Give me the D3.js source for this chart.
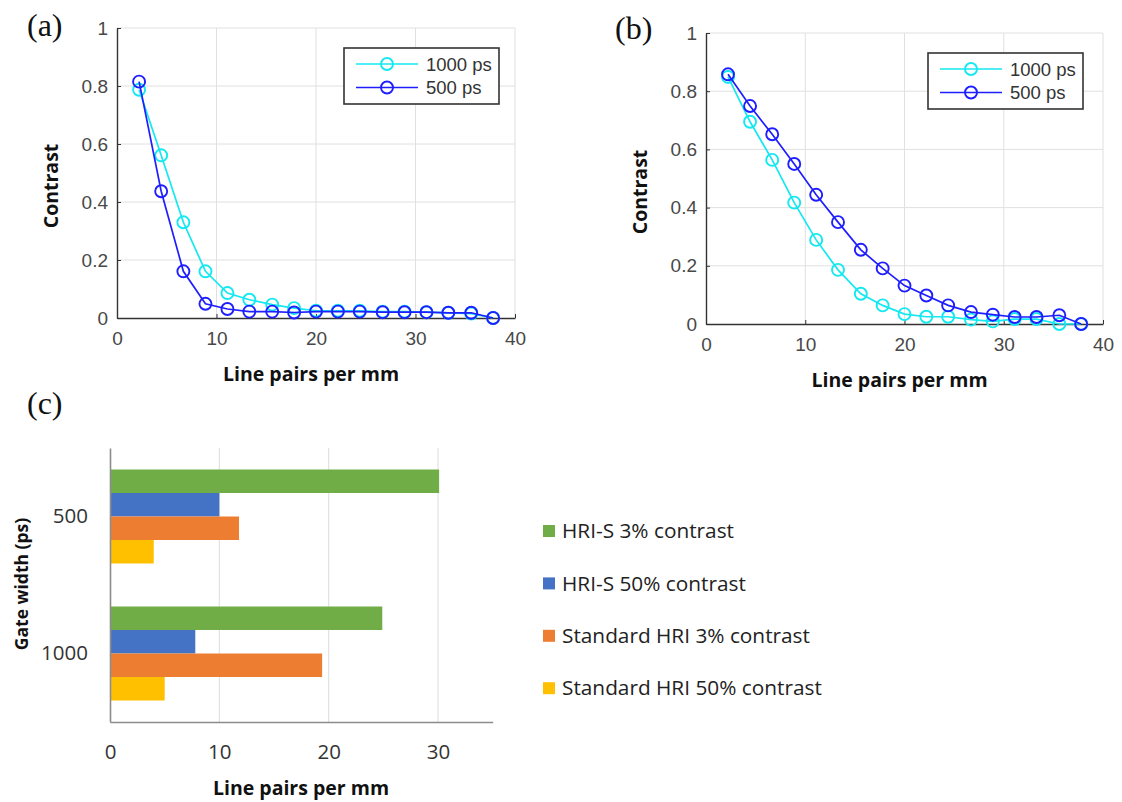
<!DOCTYPE html>
<html>
<head>
<meta charset="utf-8">
<script src="https://cdn.jsdelivr.net/npm/d3@7"></script>
<style>
  html, body { margin: 0; padding: 0; background: #fff; }
  svg { display: block; }
</style>
</head>
<body>
<svg id="fig" width="1122" height="802"></svg>
<script>
// Spatial frequencies of the resolution target (line pairs per mm)
const linePairs = [2.22, 4.44, 6.67, 8.89, 11.1, 13.3, 15.6, 17.8, 20.0, 22.2, 24.4, 26.7, 28.9, 31.1, 33.3, 35.6, 37.8];

// (a) contrast transfer, standard HRI
const aContrast1000 = [0.787, 0.561, 0.330, 0.161, 0.086, 0.063, 0.046, 0.034, 0.025, 0.025, 0.025, 0.022, 0.022, 0.020, 0.018, 0.015, 0.000];
const aContrast500  = [0.815, 0.437, 0.161, 0.049, 0.031, 0.022, 0.022, 0.019, 0.022, 0.022, 0.022, 0.020, 0.020, 0.020, 0.018, 0.018, 0.000];

// (b) contrast transfer, HRI-S
const bContrast1000 = [0.849, 0.695, 0.564, 0.417, 0.289, 0.186, 0.104, 0.064, 0.034, 0.025, 0.025, 0.015, 0.009, 0.017, 0.017, 0.000, 0.000];
const bContrast500  = [0.858, 0.749, 0.652, 0.550, 0.444, 0.350, 0.255, 0.191, 0.132, 0.098, 0.064, 0.041, 0.032, 0.024, 0.024, 0.030, 0.000];

const gateLabels = ["1000 ps", "500 ps"];
const contrastTicks = [0, 0.2, 0.4, 0.6, 0.8, 1];
const lpTicks = [0, 10, 20, 30, 40];

// (c) resolution limits per gate width
const gateWidths = ["500", "1000"];
const barSeries = ["HRI-S 3% contrast", "HRI-S 50% contrast", "Standard HRI 3% contrast", "Standard HRI 50% contrast"];
const hriS3   = [30.1, 24.9];
const hriS50  = [10.0, 7.8];
const std3    = [11.8, 19.4];
const std50   = [4.0, 5.0];
const barTicks = [0, 10, 20, 30];

const svg = d3.select("#fig");
svg.append("rect").attr("width", 1122).attr("height", 802).attr("fill", "#fff");

const lineColors = ["#14e8f0", "#1e1eff"];
const sansTick = "'Liberation Sans', Arial, sans-serif";
const sansLabel = "'Open Sans', 'Noto Sans', sans-serif";

function linePanel(cfg) {
  const g = svg.append("g");
  const x = d3.scaleLinear().domain([0, 40]).range([cfg.left, cfg.right]);
  const y = d3.scaleLinear().domain([0, 1]).range([cfg.bottom, cfg.top]);

  // grid
  const grid = g.append("g");
  grid.selectAll("line.vx").data(lpTicks.slice(1)).join("line")
    .attr("x1", d => x(d)).attr("x2", d => x(d))
    .attr("y1", cfg.top).attr("y2", cfg.bottom)
    .attr("stroke", "#e0e0e0").attr("stroke-width", 1);
  grid.selectAll("line.hy").data(contrastTicks.slice(1)).join("line")
    .attr("x1", cfg.left).attr("x2", cfg.right)
    .attr("y1", d => y(d)).attr("y2", d => y(d))
    .attr("stroke", "#e0e0e0").attr("stroke-width", 1);

  // axes with inward ticks
  const ax = g.append("g").attr("transform", `translate(0,${cfg.bottom})`)
    .call(d3.axisBottom(x).tickValues(lpTicks).tickSizeInner(-4).tickSizeOuter(0).tickPadding(14));
  const ay = g.append("g").attr("transform", `translate(${cfg.left},0)`)
    .call(d3.axisLeft(y).tickValues(contrastTicks).tickFormat(d => d3.format("")(d)).tickSizeInner(-4).tickSizeOuter(0).tickPadding(9));
  [ax, ay].forEach(a => {
    a.select(".domain").attr("stroke", "#333").attr("stroke-width", 1.4);
    a.selectAll(".tick line").attr("stroke", "#333");
    a.selectAll(".tick text").attr("font-family", sansTick).attr("font-size", 19).attr("fill", "#484848");
  });

  // series
  const line = d3.line().x(d => x(d[0])).y(d => y(d[1]));
  cfg.series.forEach((vals, i) => {
    const pts = linePairs.map((lp, k) => [lp, vals[k]]);
    g.append("path").datum(pts).attr("d", line)
      .attr("fill", "none").attr("stroke", lineColors[i]).attr("stroke-width", 1.7);
    g.selectAll(null).data(pts).join("circle")
      .attr("cx", d => x(d[0])).attr("cy", d => y(d[1])).attr("r", 6)
      .attr("fill", "none").attr("stroke", lineColors[i]).attr("stroke-width", 1.9);
  });

  // legend
  const lg = g.append("g");
  lg.append("rect").attr("x", cfg.legend[0]).attr("y", cfg.legend[1])
    .attr("width", 155).attr("height", 56)
    .attr("fill", "#fff").attr("stroke", "#333").attr("stroke-width", 1.6);
  gateLabels.forEach((lab, i) => {
    const cy = cfg.legend[1] + 16 + i * 23.5;
    const lx = cfg.legend[0] + 12;
    lg.append("line").attr("x1", lx).attr("x2", lx + 62).attr("y1", cy).attr("y2", cy)
      .attr("stroke", lineColors[i]).attr("stroke-width", 1.7);
    lg.append("circle").attr("cx", lx + 31).attr("cy", cy).attr("r", 6)
      .attr("fill", "none").attr("stroke", lineColors[i]).attr("stroke-width", 1.9);
    lg.append("text").attr("x", lx + 70).attr("y", cy).attr("dy", "0.36em")
      .attr("font-family", sansTick).attr("font-size", 18.5).attr("fill", "#333").text(lab);
  });

  // axis titles
  g.append("text").attr("x", (cfg.left + cfg.right) / 2 - 5).attr("y", cfg.bottom + 63)
    .attr("text-anchor", "middle").attr("font-family", sansLabel).attr("font-weight", 700)
    .attr("font-size", 19.5).attr("fill", "#111").text("Line pairs per mm");
  g.append("text").attr("transform", `translate(${cfg.left - 59},${cfg.ylabelY}) rotate(-90)`)
    .attr("text-anchor", "middle").attr("font-family", sansLabel).attr("font-weight", 700)
    .attr("font-size", 19.5).attr("fill", "#111").text("Contrast");

  // panel tag
  svg.append("text").attr("x", cfg.tag[0]).attr("y", cfg.tag[1])
    .attr("font-family", "'Liberation Serif', 'Times New Roman', serif").attr("font-size", 32)
    .attr("fill", "#111").text(cfg.tagText);
}

linePanel({
  left: 117, right: 515, top: 28, bottom: 318,
  series: [aContrast1000, aContrast500],
  legend: [344, 48], ylabelY: 186, tag: [27, 36], tagText: "(a)"
});
linePanel({
  left: 706, right: 1103, top: 33, bottom: 324,
  series: [bContrast1000, bContrast500],
  legend: [928, 53], ylabelY: 192, tag: [615, 39], tagText: "(b)"
});

// (c) grouped horizontal bars
const barColors = ["#70ad47", "#4472c4", "#ed7d31", "#ffc000"];
const barValues = [hriS3, hriS50, std3, std50];
const cLeft = 110, cRight = 492.7, cTop = 448, cBottom = 722;
const xc = d3.scaleLinear().domain([0, 35]).range([cLeft, cRight]);
const yc = d3.scaleBand().domain(gateWidths).range([cTop, cBottom]).paddingInner(0).paddingOuter(0);
const ys = d3.scaleBand().domain(barSeries).range([0, yc.bandwidth()]).paddingInner(0).paddingOuter(0.915);

const gc = svg.append("g");
gc.selectAll("line.grid").data(barTicks.slice(1)).join("line")
  .attr("x1", d => xc(d)).attr("x2", d => xc(d)).attr("y1", cTop).attr("y2", cBottom)
  .attr("stroke", "#dcdcdc").attr("stroke-width", 1);

gateWidths.forEach((gw, gi) => {
  barSeries.forEach((s, si) => {
    gc.append("rect")
      .attr("x", xc(0)).attr("y", yc(gw) + ys(s))
      .attr("width", xc(barValues[si][gi]) - xc(0)).attr("height", ys.bandwidth())
      .attr("fill", barColors[si]);
  });
});

const axc = gc.append("g").attr("transform", `translate(0,${cBottom})`)
  .call(d3.axisBottom(xc).tickValues(barTicks).tickSize(0).tickPadding(22));
axc.select(".domain").attr("stroke", "#8c8c8c").attr("stroke-width", 1.6);
axc.selectAll(".tick text").attr("font-family", sansLabel).attr("font-size", 20.5).attr("fill", "#333");

const ayc = gc.append("g").attr("transform", `translate(${cLeft},0)`)
  .call(d3.axisLeft(yc).tickSize(0).tickPadding(22));
ayc.select(".domain").attr("stroke", "#8c8c8c").attr("stroke-width", 1.6);
ayc.selectAll(".tick text").attr("font-family", sansLabel).attr("font-size", 20.5).attr("fill", "#333");

gc.append("text").attr("x", 301).attr("y", 788).attr("dy", "0.35em")
  .attr("text-anchor", "middle").attr("font-family", sansLabel).attr("font-weight", 700)
  .attr("font-size", 19.5).attr("fill", "#111").text("Line pairs per mm");
gc.append("text").attr("transform", "translate(22,584) rotate(-90)").attr("dy", "0.35em")
  .attr("text-anchor", "middle").attr("font-family", sansLabel).attr("font-weight", 700)
  .attr("font-size", 17.5).attr("fill", "#111").text("Gate width (ps)");

// legend for (c)
const legC = gc.append("g");
barSeries.forEach((s, i) => {
  const cy = 531 + i * 52.4;
  legC.append("rect").attr("x", 543).attr("y", cy - 6).attr("width", 12).attr("height", 12).attr("fill", barColors[i]);
  legC.append("text").attr("x", 562).attr("y", cy).attr("dy", "0.35em")
    .attr("font-family", sansLabel).attr("font-size", 20.8).attr("fill", "#222").text(s);
});

svg.append("text").attr("x", 27).attr("y", 414)
  .attr("font-family", "'Liberation Serif', 'Times New Roman', serif").attr("font-size", 32)
  .attr("fill", "#111").text("(c)");
</script>
</body>
</html>
